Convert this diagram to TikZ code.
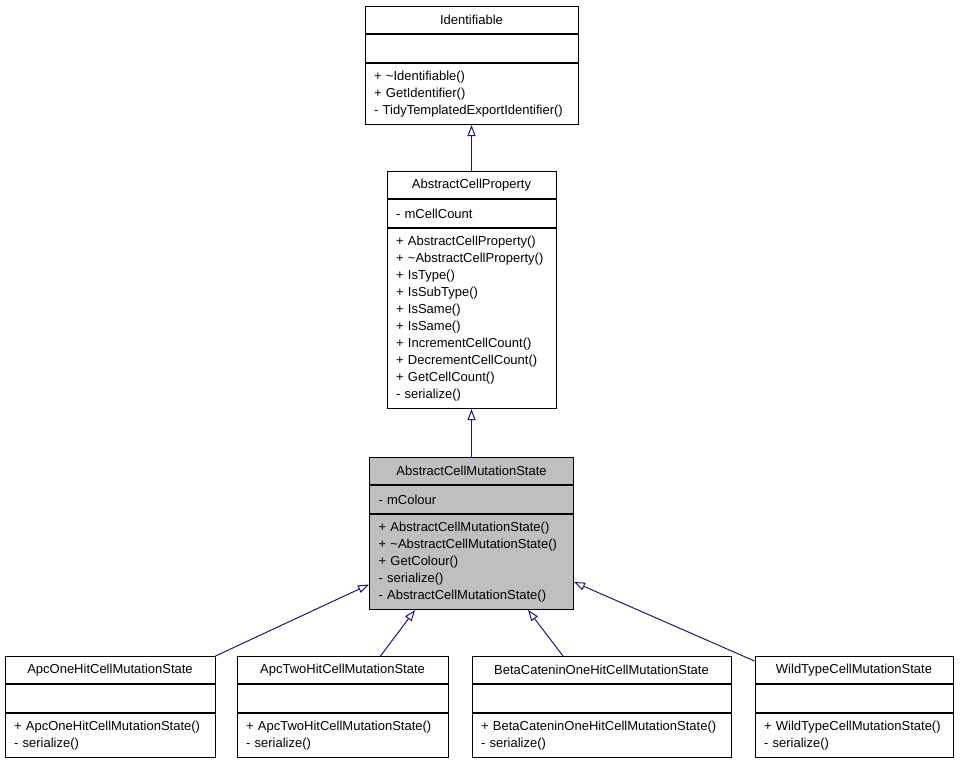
\documentclass[tikz,border=0pt]{standalone}
\usepackage{fontspec}
\setmainfont{Liberation Sans}
\usetikzlibrary{positioning, arrows.meta}
\definecolor{edgeblue}{HTML}{191970}
\definecolor{hlgray}{HTML}{BFBFBF}
\tikzset{cls/.style={draw, line width=1pt, inner xsep=9pt, inner ysep=0pt, anchor=north}, % one compartment of a class box
clshead/.style={cls, text width=#1, align=center, minimum height=27pt}, % class name
clsattr/.style={cls, text width=#1, align=left, minimum height=28pt}, % attributes
clsops/.style={cls, text width=#1, align=left}, % operations, height given per box
inherit/.style={draw=edgeblue, line width=1pt, -{Triangle[open, length=11pt, width=8pt]}}, % generalisation arrow
}

\begin{document}
\begin{tikzpicture}[x=1pt, y=-1pt, font=\fontsize{13pt}{17pt}\selectfont]
  \useasboundingbox (0,0) rectangle (960,763);

  % base classes
  \node[clshead=195pt] (idT) at (471.5,6) {Identifiable};
  \node[clsattr=195pt, below=0pt of idT] (idA) {};
  \node[clsops=195pt, minimum height=61pt, below=0pt of idA] (idM) {+ \textasciitilde Identifiable()\\+ GetIdentifier()\\- TidyTemplatedExportIdentifier()};

  \node[clshead=151pt] (apT) at (471.5,171) {AbstractCellProperty};
  \node[clsattr=151pt, below=0pt of apT] (apA) {- mCellCount};
  \node[clsops=151pt, minimum height=180pt, below=0pt of apA] (apM) {+ AbstractCellProperty()\\+ \textasciitilde AbstractCellProperty()\\+ IsType()\\+ IsSubType()\\+ IsSame()\\+ IsSame()\\+ IncrementCellCount()\\+ DecrementCellCount()\\+ GetCellCount()\\- serialize()};

  \node[clshead=186pt, fill=hlgray] (msT) at (471.5,457) {AbstractCellMutationState};
  \node[clsattr=186pt, fill=hlgray, below=0pt of msT] (msA) {- mColour};
  \node[clsops=186pt, fill=hlgray, minimum height=95pt, below=0pt of msA] (msM) {+ AbstractCellMutationState()\\+ \textasciitilde AbstractCellMutationState()\\+ GetColour()\\- serialize()\\- AbstractCellMutationState()};

  % derived classes
  \node[clshead=192pt] (b1T) at (110,656) {ApcOneHitCellMutationState};
  \node[clsattr=192pt, below=0pt of b1T] (b1A) {};
  \node[clsops=192pt, minimum height=44pt, below=0pt of b1A] (b1M) {+ ApcOneHitCellMutationState()\\- serialize()};

  \node[clshead=193pt] (b2T) at (342.5,656) {ApcTwoHitCellMutationState};
  \node[clsattr=193pt, below=0pt of b2T] (b2A) {};
  \node[clsops=193pt, minimum height=44pt, below=0pt of b2A] (b2M) {+ ApcTwoHitCellMutationState()\\- serialize()};

  \node[clshead=241pt] (b3T) at (601.5,656) {BetaCateninOneHitCellMutationState};
  \node[clsattr=241pt, below=0pt of b3T] (b3A) {};
  \node[clsops=241pt, minimum height=44pt, below=0pt of b3A] (b3M) {+ BetaCateninOneHitCellMutationState()\\- serialize()};

  \node[clshead=180pt] (b4T) at (854,656) {WildTypeCellMutationState};
  \node[clsattr=180pt, below=0pt of b4T] (b4A) {};
  \node[clsops=180pt, minimum height=44pt, below=0pt of b4A] (b4M) {+ WildTypeCellMutationState()\\- serialize()};

  \draw[inherit] (apT.north) -- (idM.south);
  \draw[inherit] (msT.north) -- (apM.south);
  \draw[inherit] (b1T.north east) -- ([yshift=25.5pt]msM.south west);
  \draw[inherit] ([xshift=38pt]b2T.north) -- ([xshift=-56.5pt]msM.south);
  \draw[inherit] ([xshift=-38.5pt]b3T.north) -- ([xshift=56.5pt]msM.south);
  \draw[inherit] ([yshift=-5pt]b4T.north west) -- ([yshift=28pt]msM.south east);

\end{tikzpicture}
\end{document}
